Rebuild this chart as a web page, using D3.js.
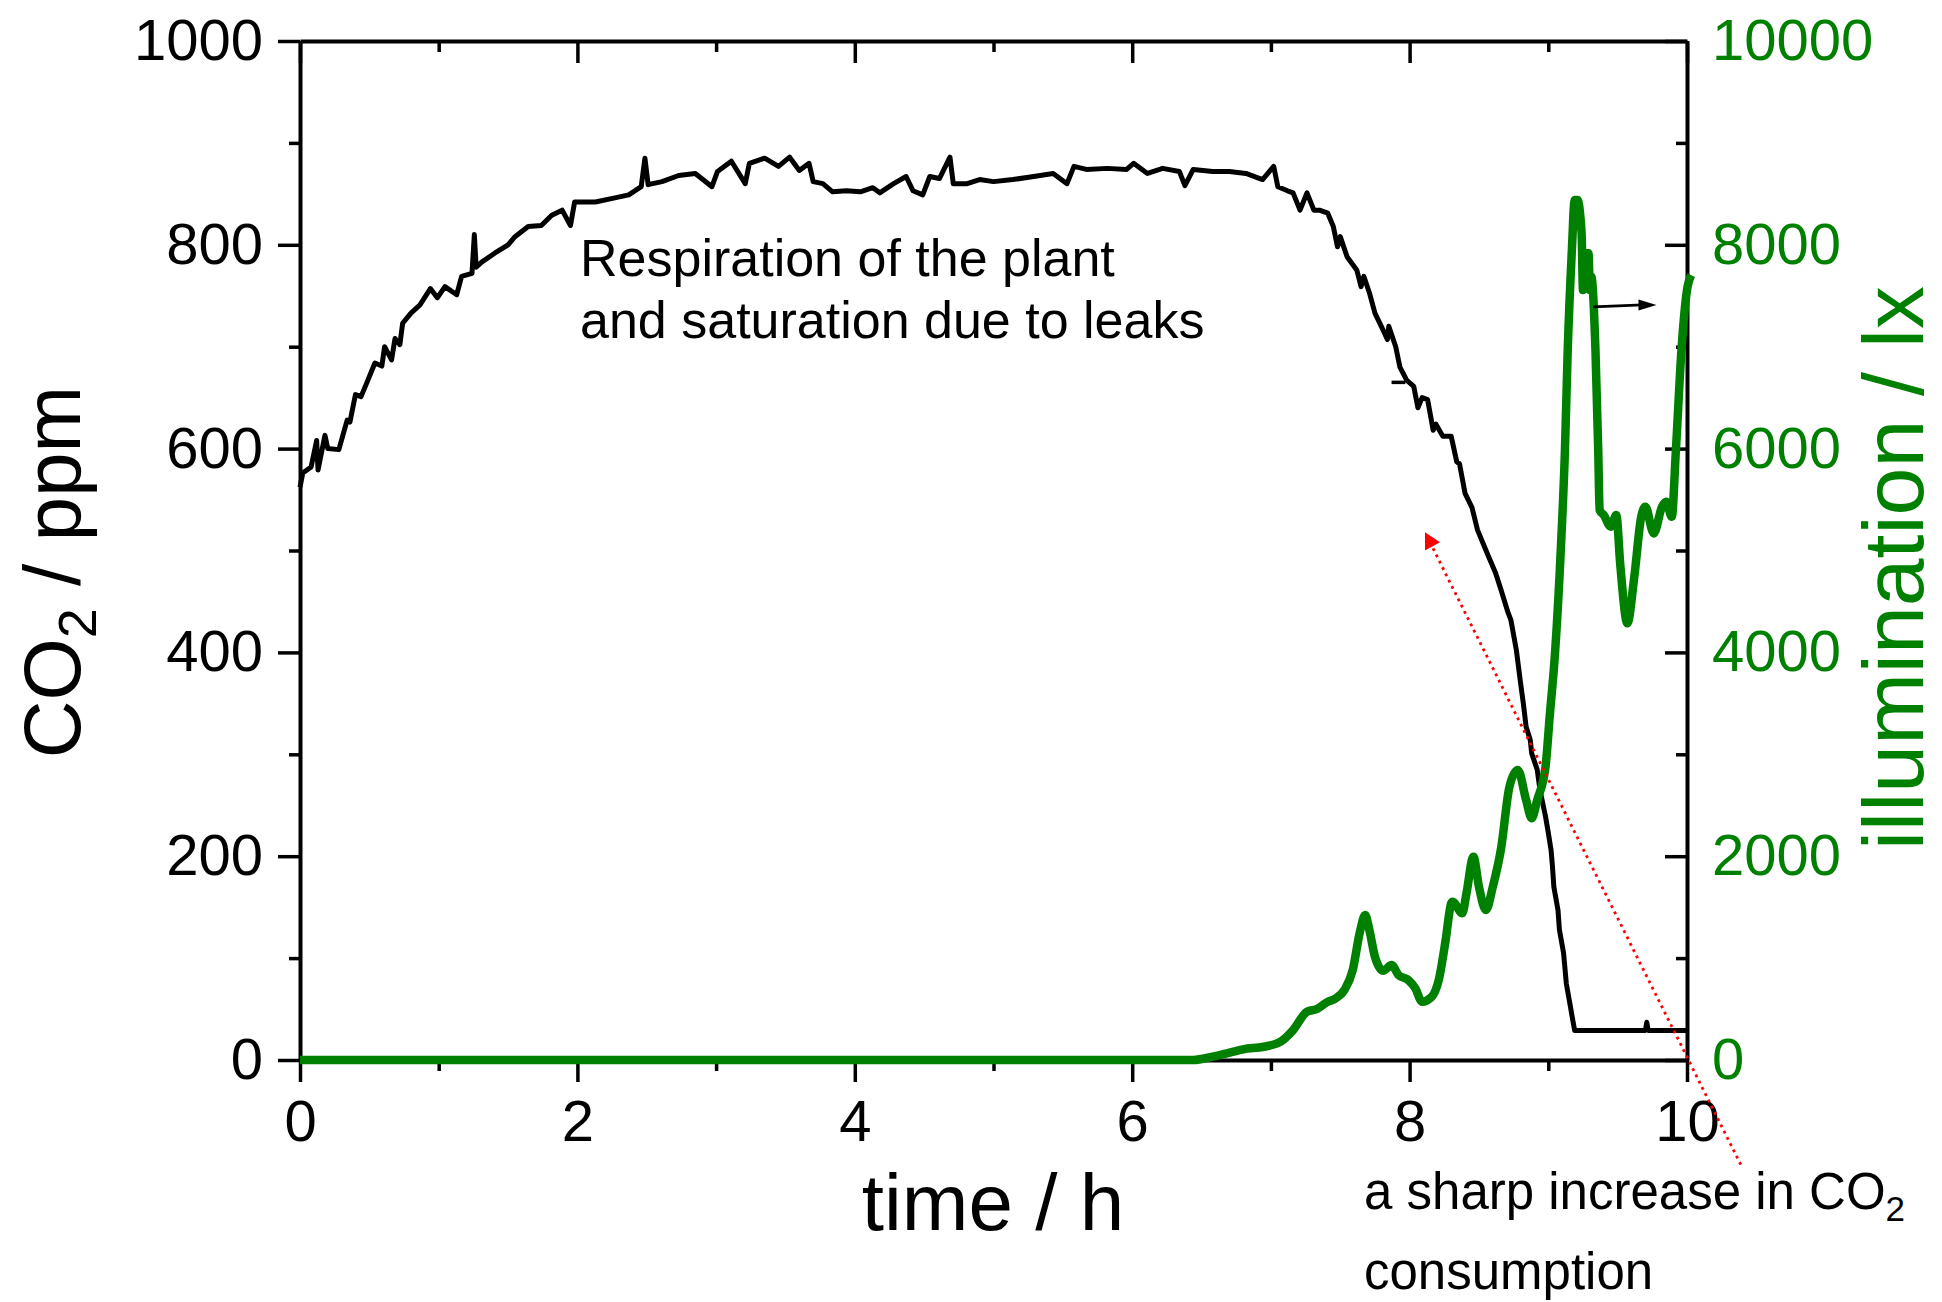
<!DOCTYPE html>
<html>
<head>
<meta charset="utf-8">
<script src="https://cdn.jsdelivr.net/npm/d3@7"></script>
<style>
  body { margin: 0; background: #fff; }
  svg { display: block; }
  text { font-family: "Liberation Sans", Arial, sans-serif; }
</style>
</head>
<body>
<svg id="chart" width="1942" height="1302"></svg>
<script>
// CO2 concentration (ppm) against time (h)
var co2Time = [0, 0.02, 0.08, 0.12, 0.13, 0.18, 0.2, 0.28, 0.34, 0.36, 0.4, 0.44, 0.48, 0.54, 0.59, 0.61, 0.66, 0.685, 0.72, 0.74,
  0.8, 0.865, 0.94, 0.99, 1.045, 1.13, 1.165, 1.24, 1.257, 1.27, 1.31, 1.406, 1.5, 1.55, 1.645, 1.74, 1.815, 1.89, 1.95, 1.98,
  2.13, 2.27, 2.37, 2.46, 2.487, 2.51, 2.61, 2.73, 2.85, 2.97, 3.01, 3.11, 3.21, 3.24, 3.35, 3.45, 3.53, 3.6, 3.67, 3.7,
  3.77, 3.84, 3.94, 4.04, 4.13, 4.18, 4.28, 4.37, 4.42, 4.49, 4.54, 4.61, 4.686, 4.71, 4.81, 4.9, 5, 5.14, 5.29, 5.43,
  5.53, 5.58, 5.67, 5.82, 5.96, 6.01, 6.11, 6.22, 6.34, 6.38, 6.44, 6.58, 6.7, 6.82, 6.94, 7.02, 7.05, 7.12, 7.16, 7.21,
  7.26, 7.31, 7.35, 7.41, 7.45, 7.48, 7.5, 7.55, 7.62, 7.65, 7.67, 7.71, 7.75, 7.81, 7.84, 7.85, 7.9, 7.93, 7.98, 8.03,
  8.06, 8.09, 8.13, 8.17, 8.19, 8.24, 8.3, 8.34, 8.36, 8.4, 8.45, 8.49, 8.56, 8.62, 8.66, 8.71, 8.73, 8.77, 8.8, 8.82,
  8.84, 8.87, 8.88, 8.92, 8.94, 8.98, 9, 9.02, 9.03, 9.04, 9.07, 9.08, 9.11, 9.13, 9.16, 9.17, 9.19, 9.7, 9.71, 9.72, 10]
var co2Value = [562, 576, 582, 608, 579, 613, 600, 599, 628, 626, 653, 651, 664, 684, 681, 700, 687, 708, 702, 723,
  733, 741, 757, 748, 759, 751, 769, 772, 810, 778, 783, 792, 800, 808, 818, 819, 829, 834, 819, 842,
  842, 846, 849, 857, 885, 859, 862, 868, 870, 857, 872, 882, 860, 880, 885, 877, 886, 873, 880, 862,
  860, 852, 853, 852, 856, 851, 860, 867, 853, 849, 867, 865, 886, 860, 860, 864, 862, 864, 867, 870,
  860, 877, 874, 875, 874, 880, 870, 875, 872, 858, 874, 872, 872, 870, 864, 877, 857, 853, 851, 834,
  851, 834, 834, 831, 818, 798, 808, 788, 775, 759, 769, 753, 733, 716, 707, 720, 700, 680, 667, 661,
  640, 650, 648, 618, 624, 612, 612, 587, 585, 556, 542, 520, 497, 478, 461, 439, 432, 402, 370, 350,
  327, 314, 301, 285, 265, 239, 223, 206, 190, 170, 147, 128, 105, 75, 52, 44, 29, 29, 37, 29, 29]

// illumination (lx) against time (h)
var luxTime = [0, 6.44, 6.58, 6.73, 6.8, 6.95, 7.07, 7.16, 7.26, 7.33, 7.4, 7.47, 7.53, 7.59, 7.64, 7.68, 7.71, 7.75, 7.81, 7.87,
  7.92, 7.99, 8.04, 8.09, 8.16, 8.21, 8.26, 8.3, 8.31, 8.38, 8.41, 8.46, 8.5, 8.55, 8.6, 8.66, 8.72, 8.78, 8.84, 8.88,
  8.92, 8.98, 9.01, 9.05, 9.09, 9.12, 9.14, 9.17, 9.19, 9.21, 9.24, 9.25, 9.27, 9.29, 9.3, 9.31, 9.34, 9.36, 9.37, 9.4,
  9.45, 9.49, 9.52, 9.57, 9.62, 9.67, 9.7, 9.76, 9.82, 9.85, 9.89, 9.92, 9.96, 10, 10.03]
var luxValue = [0, 0, 33, 82, 105, 130, 180, 294, 474, 500, 563, 608, 687, 883, 1246, 1423, 1276, 1014, 876, 932,
  834, 785, 706, 572, 621, 785, 1178, 1538, 1554, 1440, 1636, 1995, 1700, 1472, 1700, 2080, 2682, 2846, 2551, 2372,
  2551, 2878, 3369, 4023, 5005, 5986, 6968, 7949, 8440, 8440, 8113, 7556, 7916, 7916, 7556, 7687, 6968, 5986, 5397, 5348,
  5234, 5348, 4841, 4285, 4743, 5332, 5430, 5168, 5430, 5479, 5332, 5986, 6968, 7556, 7703]

var timeMajor = [0, 2, 4, 6, 8, 10]
var timeMinor = [1, 3, 5, 7, 9]
var co2Major = [0, 200, 400, 600, 800, 1000]
var co2Minor = [100, 300, 500, 700, 900]
var luxMajor = [0, 2000, 4000, 6000, 8000, 10000]
var luxMinor = [1000, 3000, 5000, 7000, 9000]

var green = "#008000"
var plain = d3.format("d")
var svg = d3.select("#chart")
svg.append("rect").attr("width", 1942).attr("height", 1302).attr("fill", "#fff")

var x = d3.scaleLinear().domain([0, 10]).range([300, 1687])
var yL = d3.scaleLinear().domain([0, 1000]).range([1060, 41])
var yR = d3.scaleLinear().domain([0, 10000]).range([1060, 41])

function styleAxis(g, color) {
    g.select(".domain").attr("stroke", "#000").attr("stroke-width", 4)
    g.selectAll(".tick line").attr("stroke", "#000").attr("stroke-width", 3.5)
    g.selectAll(".tick text").attr("fill", color).style("font-size", "58px")
        .style("font-family", "'Liberation Sans', Arial, sans-serif")
}

// bottom: outward ticks with labels
var gb = svg.append("g").attr("transform", "translate(0,1060)")
gb.call(d3.axisBottom(x).tickValues(timeMinor).tickSize(11).tickSizeOuter(0).tickFormat(""))
gb.append("g").call(d3.axisBottom(x).tickValues(timeMajor).tickSize(22).tickSizeOuter(0).tickPadding(18).tickFormat(plain))
styleAxis(gb, "#000")

// top: inward ticks, no labels
var gt = svg.append("g").attr("transform", "translate(0,41)")
gt.call(d3.axisTop(x).tickValues(timeMinor).tickSize(-11).tickSizeOuter(0).tickFormat(""))
gt.append("g").call(d3.axisTop(x).tickValues(timeMajor).tickSize(-22).tickSizeOuter(0).tickFormat(""))
styleAxis(gt, "#000")

// left: outward ticks
var gl = svg.append("g").attr("transform", "translate(300,0)")
gl.call(d3.axisLeft(yL).tickValues(co2Minor).tickSize(11).tickSizeOuter(0).tickFormat(""))
gl.append("g").call(d3.axisLeft(yL).tickValues(co2Major).tickSize(22).tickSizeOuter(0).tickPadding(15).tickFormat(plain))
styleAxis(gl, "#000")

// right: inward ticks, green labels
var gr = svg.append("g").attr("transform", "translate(1687,0)")
gr.call(d3.axisRight(yR).tickValues(luxMinor).tickSize(-11).tickSizeOuter(0).tickFormat(""))
gr.append("g").call(d3.axisRight(yR).tickValues(luxMajor).tickSize(-22).tickSizeOuter(0).tickPadding(25).tickFormat(plain))
styleAxis(gr, green)

// curves
var co2Data = co2Time.map(function(t, i) { return [t, co2Value[i]] })
var luxData = luxTime.map(function(t, i) { return [t, luxValue[i]] })

var co2Line = d3.line().x(function(d) { return x(d[0]) }).y(function(d) { return yL(d[1]) })
var luxLine = d3.line().curve(d3.curveMonotoneX).x(function(d) { return x(d[0]) }).y(function(d) { return yR(d[1]) })

svg.append("path").datum(co2Data).attr("d", co2Line)
    .attr("fill", "none").attr("stroke", "#000").attr("stroke-width", 5).attr("stroke-linejoin", "round")

// stray dash near the descent
svg.append("line").attr("x1", x(7.87)).attr("x2", x(7.97)).attr("y1", yL(665)).attr("y2", yL(665))
    .attr("stroke", "#000").attr("stroke-width", 3.5)

svg.append("path").datum(luxData).attr("d", luxLine)
    .attr("fill", "none").attr("stroke", green).attr("stroke-width", 8.5).attr("stroke-linejoin", "round")

// black arrow pointing to right axis
var ax1 = x(9.323), ay1 = yL(739), ax2 = x(9.78), ay2 = yL(741)
svg.append("line").attr("x1", ax1).attr("y1", ay1).attr("x2", ax2 - 14).attr("y2", ay2)
    .attr("stroke", "#000").attr("stroke-width", 2.8)
svg.append("polygon").attr("points", [[ax2, ay2], [ax2 - 18, ay2 - 5.5], [ax2 - 18, ay2 + 5.5]].join(" "))
    .attr("fill", "#000")

// red dotted arrow
svg.append("line").attr("x1", x(8.169)).attr("y1", yL(502)).attr("x2", x(10.396)).attr("y2", yL(-105))
    .attr("stroke", "#ff0000").attr("stroke-width", 2.8).attr("stroke-dasharray", "2.8 4.2")
svg.append("polygon").attr("points", [[x(8.111), yL(518)], [x(8.111), yL(500)], [x(8.219), yL(508)]].join(" "))
    .attr("fill", "#ff0000")

// annotations
var note = svg.append("text").attr("x", 580).attr("y", 276).style("font-size", "52px").attr("fill", "#000")
note.append("tspan").attr("x", 580).text("Respiration of the plant")
note.append("tspan").attr("x", 580).attr("dy", 62).text("and saturation due to leaks")

var note2 = svg.append("text").attr("x", 1364).attr("y", 1209).style("font-size", "51px").attr("fill", "#000")
note2.append("tspan").text("a sharp increase in CO")
note2.append("tspan").attr("dy", 12).style("font-size", "35px").text("2")
svg.append("text").attr("x", 1364).attr("y", 1289).style("font-size", "51px").attr("fill", "#000").text("consumption")

// axis titles
svg.append("text").attr("x", 993).attr("y", 1230).attr("text-anchor", "middle")
    .style("font-size", "80px").attr("fill", "#000").text("time / h")

var yt = svg.append("text").attr("transform", "translate(80,572) rotate(-90)").attr("text-anchor", "middle")
    .style("font-size", "80px").attr("fill", "#000")
yt.append("tspan").text("CO")
yt.append("tspan").attr("dy", 16).style("font-size", "54px").text("2")
yt.append("tspan").attr("dy", -16).text(" / ppm")

svg.append("text").attr("transform", "translate(1923,568) rotate(-90)").attr("text-anchor", "middle")
    .style("font-size", "86px").attr("fill", green).text("illumination / lx")
</script>
</body>
</html>
